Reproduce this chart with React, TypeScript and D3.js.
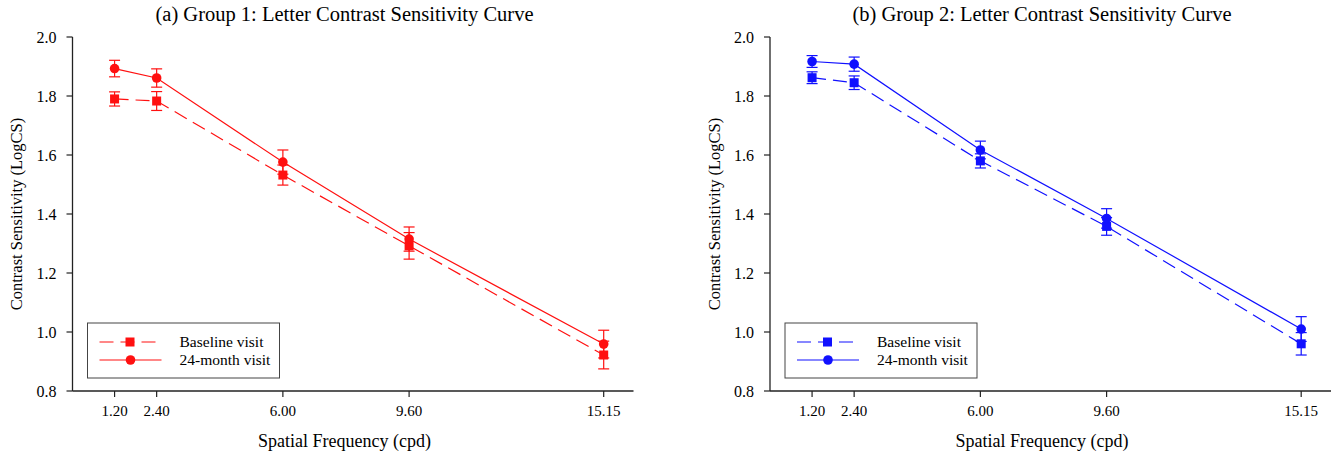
import React from 'react';
import * as d3 from 'd3';

// spatial frequencies (cpd) and tick labels
const freqs = [1.2, 2.4, 6.0, 9.6, 15.15];
const xTickLabels = ['1.20', '2.40', '6.00', '9.60', '15.15'];
const yTicks = [0.8, 1.0, 1.2, 1.4, 1.6, 1.8, 2.0];

// group 1
const g1Baseline = [1.79, 1.783, 1.532, 1.292, 0.922];
const g1BaselineErr = [0.024, 0.032, 0.034, 0.045, 0.047];
const g1Month24 = [1.893, 1.861, 1.576, 1.315, 0.959];
const g1Month24Err = [0.028, 0.031, 0.041, 0.041, 0.047];

// group 2
const g2Baseline = [1.862, 1.845, 1.58, 1.358, 0.96];
const g2BaselineErr = [0.02, 0.023, 0.024, 0.03, 0.038];
const g2Month24 = [1.917, 1.908, 1.617, 1.385, 1.01];
const g2Month24Err = [0.02, 0.024, 0.03, 0.033, 0.042];

const FONT = '"Liberation Serif", "Times New Roman", serif';
const DASH = '14,7';

interface PanelProps {
  left: number;
  title: string;
  color: string;
  baseline: number[];
  baselineErr: number[];
  month24: number[];
  month24Err: number[];
}

const Panel: React.FC<PanelProps> = ({ left, title, color, baseline, baselineErr, month24, month24Err }) => {
  const x = d3.scaleLinear().domain([0, 16]).range([left, left + 561]);
  const y = d3.scaleLinear().domain([0.8, 2.0]).range([391, 37]);
  const line = d3.line<number>().x((_, i) => x(freqs[i])).y(d => y(d));
  const cx = left + 272;

  const errBars = (vals: number[], errs: number[], key: string) =>
    vals.map((v, i) => {
      const px = x(freqs[i]);
      const top = y(v + errs[i]);
      const bot = y(v - errs[i]);
      return (
        <g key={key + i} stroke={color} strokeWidth={1.2}>
          <line x1={px} x2={px} y1={top} y2={bot} />
          <line x1={px - 5.5} x2={px + 5.5} y1={top} y2={top} />
          <line x1={px - 5.5} x2={px + 5.5} y1={bot} y2={bot} />
        </g>
      );
    });

  const legX = left + 15;
  return (
    <g fontFamily={FONT}>
      <text x={cx} y={21} textAnchor="middle" fontSize={20.5}>{title}</text>

      {/* axes */}
      <line x1={left} x2={left} y1={y(2.0)} y2={y(0.8)} stroke="#222" strokeWidth={1.3} />
      <line x1={left} x2={x(16)} y1={y(0.8)} y2={y(0.8)} stroke="#222" strokeWidth={1.3} />
      {yTicks.map(t => (
        <g key={'yt' + t}>
          <line x1={left - 6} x2={left} y1={y(t)} y2={y(t)} stroke="#222" strokeWidth={1.2} />
          <text x={left - 16} y={y(t)} dy="0.35em" textAnchor="end" fontSize={16}>{t.toFixed(1)}</text>
        </g>
      ))}
      {freqs.map((f, i) => (
        <g key={'xt' + f}>
          <line x1={x(f)} x2={x(f)} y1={y(0.8)} y2={y(0.8) + 6} stroke="#222" strokeWidth={1.2} />
          <text x={x(f)} y={411} dy="0.35em" textAnchor="middle" fontSize={15}>{xTickLabels[i]}</text>
        </g>
      ))}
      <text x={cx} y={441} dy="0.35em" textAnchor="middle" fontSize={18}>Spatial Frequency (cpd)</text>
      <text transform={`translate(${left - 56},${214}) rotate(-90)`} textAnchor="middle" dy="0.35em" fontSize={16.5}>
        Contrast Sensitivity (LogCS)
      </text>

      {/* series */}
      <path d={line(baseline) ?? ''} fill="none" stroke={color} strokeWidth={1.2} strokeDasharray={DASH} />
      <path d={line(month24) ?? ''} fill="none" stroke={color} strokeWidth={1.2} />
      {errBars(baseline, baselineErr, 'be')}
      {errBars(month24, month24Err, 'me')}
      {baseline.map((v, i) => (
        <rect key={'bs' + i} x={x(freqs[i]) - 4.5} y={y(v) - 4.5} width={9} height={9} fill={color} />
      ))}
      {month24.map((v, i) => (
        <circle key={'mc' + i} cx={x(freqs[i])} cy={y(v)} r={4.8} fill={color} />
      ))}

      {/* legend */}
      <rect x={legX} y={323} width={192} height={55} fill="#fff" stroke="#444" strokeWidth={1} />
      <line x1={legX + 12} x2={legX + 72} y1={342} y2={342} stroke={color} strokeWidth={1.2} strokeDasharray={DASH} />
      <rect x={legX + 38} y={337.5} width={9} height={9} fill={color} />
      <line x1={legX + 12} x2={legX + 74} y1={360} y2={360} stroke={color} strokeWidth={1.2} />
      <circle cx={legX + 43} cy={360} r={4.8} fill={color} />
      <text x={legX + 92} y={342} dy="0.35em" fontSize={15.5}>Baseline visit</text>
      <text x={legX + 92} y={360} dy="0.35em" fontSize={15.5}>24-month visit</text>
    </g>
  );
};

export default function App() {
  return (
    <svg width={1334} height={456} style={{ position: 'absolute', left: 0, top: 0, background: '#fff' }}>
      <rect width={1334} height={456} fill="#fff" />
      <Panel
        left={72.5}
        title="(a) Group 1: Letter Contrast Sensitivity Curve"
        color="#ff1010"
        baseline={g1Baseline}
        baselineErr={g1BaselineErr}
        month24={g1Month24}
        month24Err={g1Month24Err}
      />
      <Panel
        left={770}
        title="(b) Group 2: Letter Contrast Sensitivity Curve"
        color="#1010ff"
        baseline={g2Baseline}
        baselineErr={g2BaselineErr}
        month24={g2Month24}
        month24Err={g2Month24Err}
      />
    </svg>
  );
}
